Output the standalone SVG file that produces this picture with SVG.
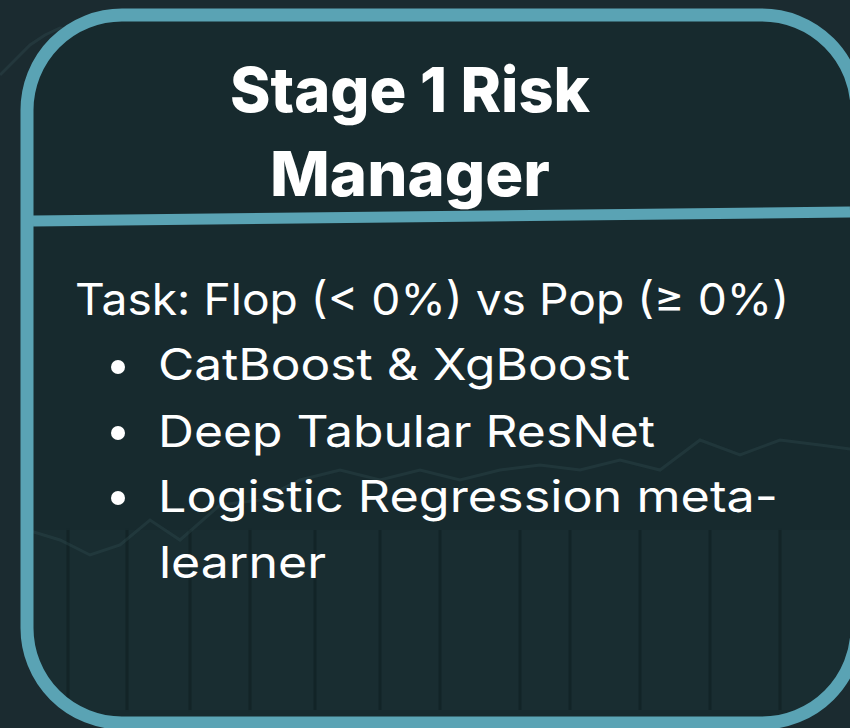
<svg xmlns="http://www.w3.org/2000/svg" width="850" height="728" viewBox="0 0 850 728">
  <defs>
    <style>
      .bg { fill: #1b2b30; }
      .panel-fill { fill: #172a2e; }
      .panel-border { fill: none; stroke: #5aa3b4; stroke-width: 13; }
      .divider { stroke: #5aa3b4; stroke-width: 11; fill: none; }
      .chart { fill: none; stroke: #3a5a5e; stroke-width: 3; opacity: 0.25; }
      .vline { stroke: #0f1f22; stroke-width: 3; opacity: 0.6; }
      .lower { fill: #1a3033; opacity: 0.6; }
      .title { font-family: Inter, "Liberation Sans", sans-serif; font-weight: 800; font-size: 62px; fill: #ffffff; text-anchor: middle; }
      .body { font-family: Inter, "Liberation Sans", sans-serif; font-weight: 400; font-size: 44px; fill: #ffffff; }
      .bullet { fill: #ffffff; }
    </style>
    <clipPath id="panelClip">
      <rect x="27" y="15" width="830" height="708" rx="95" ry="95"/>
    </clipPath>
  </defs>
  <rect class="bg" x="0" y="0" width="850" height="728"/>
  <g id="background-chart">
    <polyline class="chart" points="0,75 15,60 30,45 45,35 60,28 75,30 90,22 105,18 120,10"/>
  </g>
  <g id="panel">
    <rect class="panel-fill" x="27" y="15" width="830" height="708" rx="95" ry="95"/>
    <g id="panel-decor" clip-path="url(#panelClip)">
      <rect class="lower" x="27" y="530" width="830" height="180"/>
      <line class="vline" x1="68" y1="530" x2="68" y2="710"/>
      <line class="vline" x1="127" y1="530" x2="127" y2="710"/>
      <line class="vline" x1="190" y1="530" x2="190" y2="710"/>
      <line class="vline" x1="250" y1="530" x2="250" y2="710"/>
      <line class="vline" x1="315" y1="530" x2="315" y2="710"/>
      <line class="vline" x1="380" y1="530" x2="380" y2="710"/>
      <line class="vline" x1="440" y1="530" x2="440" y2="710"/>
      <line class="vline" x1="520" y1="530" x2="520" y2="710"/>
      <line class="vline" x1="570" y1="530" x2="570" y2="710"/>
      <line class="vline" x1="640" y1="530" x2="640" y2="710"/>
      <line class="vline" x1="710" y1="530" x2="710" y2="710"/>
      <line class="vline" x1="780" y1="530" x2="780" y2="710"/>
      <polyline class="chart" points="27,530 60,540 90,555 120,545 150,520 180,540 220,505 260,500 300,480 340,470 380,480 420,470 460,480 500,470 540,465 580,470 620,460 660,470 700,440 740,455 780,440 820,445 857,450"/>
    </g>
    <rect class="panel-border" x="27" y="15" width="830" height="708" rx="95" ry="95"/>
    <line class="divider" x1="33" y1="221" x2="850" y2="212"/>
  </g>
  <g id="title">
    <text class="title" x="410" y="112" textLength="360" lengthAdjust="spacingAndGlyphs">Stage 1 Risk</text>
    <text class="title" x="410" y="196" textLength="280" lengthAdjust="spacingAndGlyphs">Manager</text>
  </g>
  <g id="body">
    <text class="body" x="75" y="315" textLength="714" lengthAdjust="spacingAndGlyphs">Task: Flop (&lt; 0%) vs Pop (≥ 0%)</text>
    <circle class="bullet" cx="118" cy="367" r="7"/>
    <text class="body" x="158" y="380" textLength="472" lengthAdjust="spacingAndGlyphs">CatBoost &amp; XgBoost</text>
    <circle class="bullet" cx="118" cy="433" r="7"/>
    <text class="body" x="158" y="447" textLength="497" lengthAdjust="spacingAndGlyphs">Deep Tabular ResNet</text>
    <circle class="bullet" cx="118" cy="498" r="7"/>
    <text class="body" x="158" y="512" textLength="620" lengthAdjust="spacingAndGlyphs">Logistic Regression meta-</text>
    <text class="body" x="159" y="578" textLength="167" lengthAdjust="spacingAndGlyphs">learner</text>
  </g>
</svg>
